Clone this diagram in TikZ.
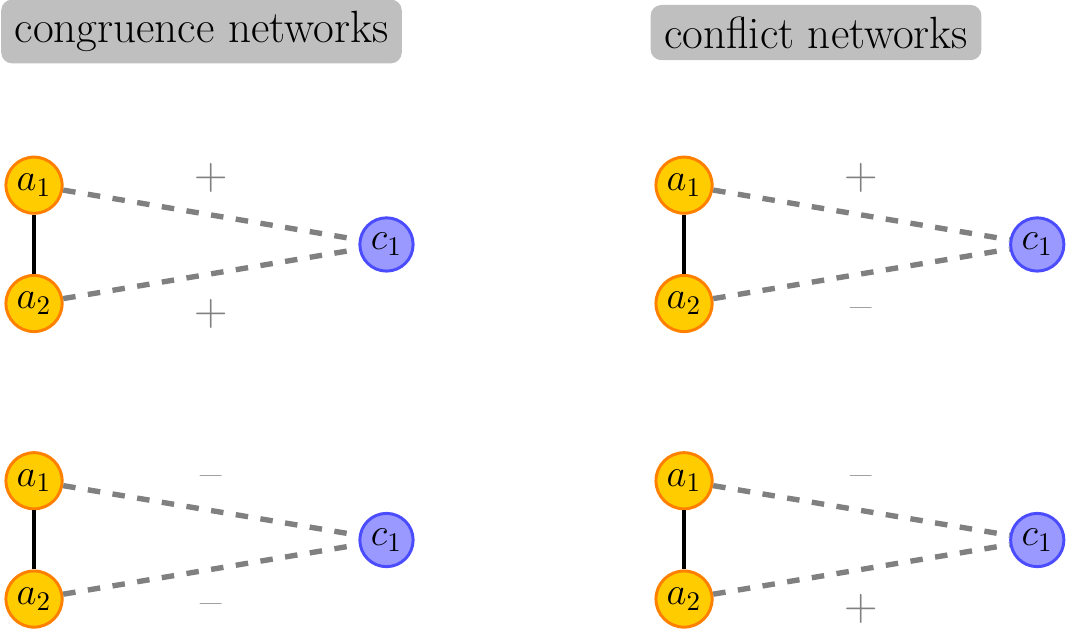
\documentclass[tikz,border=0pt]{standalone}
\usepackage{tikz}

\definecolor{agentfill}{RGB}{255,204,0}

\begin{document}
\begin{tikzpicture}[
    agent/.style  = {circle, draw=orange, fill=agentfill, line width=1.1pt, inner sep=2pt, font=\Large},
    claim/.style  = {circle, draw=blue!70, fill=blue!40, line width=1.1pt, inner sep=2pt, font=\Large},
    tie/.style    = {line width=1.6pt},
    link/.style   = {gray, line width=2pt, dash pattern=on 4.65pt off 4.65pt},
    signup/.style   = {midway, above=4pt, gray, font=\LARGE},
    signdown/.style = {midway, below=5pt, gray, font=\LARGE},
    dashdown/.style = {signdown, below=3.3pt},
    heading/.style  = {fill=lightgray, rounded corners=4pt, inner xsep=5pt, inner ysep=4.3pt,
                       font=\fontsize{16.8}{20}\selectfont}
  ]
  \useasboundingbox (0,0) rectangle (13.966,8.252);

  \node[heading] (congruence) at (2.635,7.840) {congruence networks};
  \node[heading] (conflict)   at (10.671,7.826) {conflict networks};

  % congruence, both positive
  \begin{scope}[shift={(0,3.865)}]
    \node[agent] (cp-a1) at (0.445,1.965) {$a_1$};
    \node[agent] (cp-a2) at (0.445,0.418) {$a_2$};
    \node[claim] (cp-c1) at (5.054,1.190) {$c_1$};
    \draw[tie] (cp-a1) -- (cp-a2);
    \draw[link] (cp-a1) -- (cp-c1) node[signup] {+};
    \draw[link] (cp-a2) -- (cp-c1) node[signdown] {+};
  \end{scope}

  % congruence, both negative
  \node[agent] (cm-a1) at (0.445,1.965) {$a_1$};
  \node[agent] (cm-a2) at (0.445,0.418) {$a_2$};
  \node[claim] (cm-c1) at (5.054,1.190) {$c_1$};
  \draw[tie] (cm-a1) -- (cm-a2);
  \draw[link] (cm-a1) -- (cm-c1) node[signup] {--};
  \draw[link] (cm-a2) -- (cm-c1) node[dashdown] {--};

  % conflict, plus over minus
  \begin{scope}[shift={(8.5,3.865)}]
    \node[agent] (fp-a1) at (0.445,1.965) {$a_1$};
    \node[agent] (fp-a2) at (0.445,0.418) {$a_2$};
    \node[claim] (fp-c1) at (5.064,1.190) {$c_1$};
    \draw[tie] (fp-a1) -- (fp-a2);
    \draw[link] (fp-a1) -- (fp-c1) node[signup] {+};
    \draw[link] (fp-a2) -- (fp-c1) node[dashdown] {--};
  \end{scope}

  % conflict, minus over plus
  \begin{scope}[shift={(8.5,0)}]
    \node[agent] (fm-a1) at (0.445,1.965) {$a_1$};
    \node[agent] (fm-a2) at (0.445,0.418) {$a_2$};
    \node[claim] (fm-c1) at (5.064,1.190) {$c_1$};
    \draw[tie] (fm-a1) -- (fm-a2);
    \draw[link] (fm-a1) -- (fm-c1) node[signup] {--};
    \draw[link] (fm-a2) -- (fm-c1) node[signdown] {+};
  \end{scope}
\end{tikzpicture}
\end{document}
